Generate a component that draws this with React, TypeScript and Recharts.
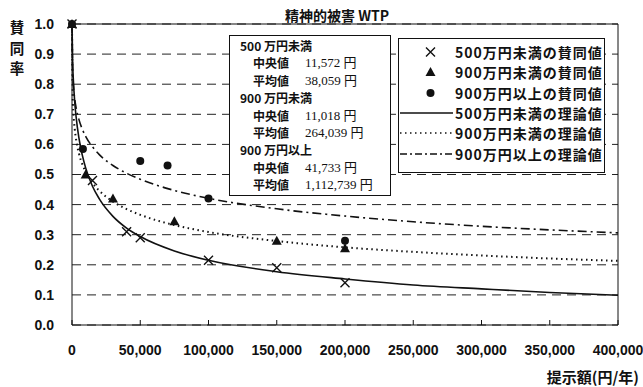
import React from 'react';
import { ComposedChart, Line, Scatter, XAxis, YAxis, CartesianGrid, ReferenceLine } from 'recharts';

// 理論値の曲線
const curveX = [0, 500, 1000, 2000, 3000, 5000, 7500, 10000, 15000, 20000, 30000, 40000, 50000, 75000, 100000, 150000, 200000, 250000, 300000, 350000, 400000];
const theoryUnder500 = [1.0, 0.868, 0.813, 0.741, 0.692, 0.623, 0.565, 0.522, 0.461, 0.419, 0.361, 0.322, 0.294, 0.246, 0.215, 0.177, 0.153, 0.133, 0.12, 0.108, 0.099];
const theoryUnder900 = [1.0, 0.755, 0.705, 0.651, 0.616, 0.571, 0.535, 0.509, 0.472, 0.446, 0.41, 0.385, 0.366, 0.332, 0.309, 0.279, 0.258, 0.243, 0.231, 0.221, 0.213];
const theoryOver900 = [1.0, 0.833, 0.795, 0.751, 0.722, 0.684, 0.651, 0.627, 0.592, 0.566, 0.53, 0.504, 0.484, 0.447, 0.421, 0.386, 0.362, 0.343, 0.328, 0.316, 0.306];

// 賛同値
const obsXUnder500 = [0, 15000, 40000, 50000, 100000, 150000, 200000];
const obsYUnder500 = [1.0, 0.48, 0.31, 0.29, 0.215, 0.19, 0.14];
const obsXUnder900 = [0, 10000, 30000, 75000, 150000, 200000];
const obsYUnder900 = [1.0, 0.5, 0.42, 0.345, 0.28, 0.255];
const obsXOver900 = [0, 8000, 50000, 70000, 100000, 200000];
const obsYOver900 = [1.0, 0.585, 0.545, 0.53, 0.42, 0.28];

const xTicks = [0, 50000, 100000, 150000, 200000, 250000, 300000, 350000, 400000];
const yTicks = [0, 0.1, 0.2, 0.3, 0.4, 0.5, 0.6, 0.7, 0.8, 0.9, 1.0];

const legendLabels = [
  '500万円未満の賛同値',
  '900万円未満の賛同値',
  '900万円以上の賛同値',
  '500万円未満の理論値',
  '900万円未満の理論値',
  '900万円以上の理論値',
];

const statTitles = ['500 万円未満', '900 万円未満', '900 万円以上'];
const statMedians = ['11,572 円', '11,018 円', '41,733 円'];
const statMeans = ['38,059 円', '264,039 円', '1,112,739 円'];

const yLabelChars = ['賛', '同', '率'];

const toPoints = (xs: number[], ys: number[]) => xs.map((x, i) => ({ x, y: ys[i] }));

const INK = '#111';
const SANS = '"Liberation Sans", Arial, sans-serif';
const CJK = '"Noto Sans CJK JP", sans-serif';

const CrossShape = (props: any) => {
  const { cx, cy } = props;
  const r = 4.5;
  return (
    <path
      d={`M${cx - r},${cy - r}L${cx + r},${cy + r}M${cx - r},${cy + r}L${cx + r},${cy - r}`}
      stroke={INK}
      strokeWidth={1.4}
      fill="none"
    />
  );
};

const TriangleShape = (props: any) => {
  const { cx, cy } = props;
  return <path d={`M${cx},${cy - 5}L${cx + 5},${cy + 4}L${cx - 5},${cy + 4}Z`} fill={INK} />;
};

const DotShape = (props: any) => {
  const { cx, cy } = props;
  return <circle cx={cx} cy={cy} r={4} fill={INK} />;
};

const legendSymbol = (i: number) => {
  if (i === 0) return <path d="M27,5.5L36,14.5M27,14.5L36,5.5" stroke={INK} strokeWidth={1.4} />;
  if (i === 1) return <path d="M31.5,5L36.5,14L26.5,14Z" fill={INK} />;
  if (i === 2) return <circle cx={31.5} cy={10} r={4} fill={INK} />;
  const dash = i === 3 ? undefined : i === 4 ? '1.5 3.5' : '7 3 2 3';
  return <line x1={1} y1={10} x2={54} y2={10} stroke={INK} strokeWidth={1.6} strokeDasharray={dash} />;
};

const App: React.FC = () => {
  const line500 = toPoints(curveX, theoryUnder500);
  const line900 = toPoints(curveX, theoryUnder900);
  const lineOver = toPoints(curveX, theoryOver900);

  return (
    <div style={{ position: 'absolute', left: 0, top: 0, width: 643, height: 387, background: '#fff' }}>
      <ComposedChart width={643} height={387} margin={{ top: 24, right: 25, bottom: 0, left: 0 }}>
        <CartesianGrid horizontal vertical={false} stroke="#222" strokeDasharray="9 6" />
        <XAxis
          type="number"
          dataKey="x"
          domain={[0, 400000]}
          ticks={xTicks}
          height={62}
          tickSize={-5}
          tickMargin={25}
          stroke={INK}
          tick={{ fill: INK, fontSize: 14, fontWeight: 700, fontFamily: SANS }}
          tickFormatter={(v: number) => v.toLocaleString('en-US')}
        />
        <YAxis
          type="number"
          domain={[0, 1]}
          ticks={yTicks}
          width={72}
          tickLine={false}
          tickSize={0}
          tickMargin={18}
          stroke={INK}
          tick={{ fill: INK, fontSize: 14, fontWeight: 700, fontFamily: SANS }}
          tickFormatter={(v: number) => v.toFixed(1)}
        />
        <YAxis
          yAxisId="right"
          orientation="right"
          mirror
          type="number"
          domain={[0, 1]}
          ticks={yTicks}
          tick={false}
          tickSize={5}
          stroke={INK}
        />
        <ReferenceLine y={1} stroke={INK} strokeWidth={1.2} />

        <Line data={line500} dataKey="y" type="monotone" stroke={INK} strokeWidth={1.6} dot={false} isAnimationActive={false} />
        <Line data={line900} dataKey="y" type="monotone" stroke={INK} strokeWidth={2} strokeDasharray="1.5 3.5" dot={false} isAnimationActive={false} />
        <Line data={lineOver} dataKey="y" type="monotone" stroke={INK} strokeWidth={1.6} strokeDasharray="9 4 2 4" dot={false} isAnimationActive={false} />

        <Scatter data={toPoints(obsXUnder500, obsYUnder500)} dataKey="y" shape={CrossShape} isAnimationActive={false} />
        <Scatter data={toPoints(obsXUnder900, obsYUnder900)} dataKey="y" shape={TriangleShape} isAnimationActive={false} />
        <Scatter data={toPoints(obsXOver900, obsYOver900)} dataKey="y" shape={DotShape} isAnimationActive={false} />
      </ComposedChart>

      {/* タイトル */}
      <div style={{ position: 'absolute', left: 270, top: 5, width: 134, textAlign: 'center', fontFamily: CJK, fontSize: 14, fontWeight: 700, color: INK, lineHeight: '20px' }}>
        精神的被害 WTP
      </div>

      {/* 縦軸ラベル */}
      {yLabelChars.map((c, i) => (
        <div
          key={c}
          style={{ position: 'absolute', left: 8, top: 17 + i * 20.5, width: 18, height: 20, fontFamily: CJK, fontSize: 14.5, fontWeight: 700, color: INK, lineHeight: '20px', textAlign: 'center' }}
        >
          {c}
        </div>
      ))}

      {/* 横軸ラベル */}
      <div style={{ position: 'absolute', right: 4, top: 366, fontFamily: CJK, fontSize: 15, fontWeight: 700, color: INK, lineHeight: '22px' }}>
        提示額(円/年)
      </div>

      {/* 中央値・平均値 */}
      <div style={{ position: 'absolute', left: 229, top: 35, width: 160, height: 158, border: '1.5px solid #111', background: '#fff', fontSize: 12, color: INK, paddingTop: 1 }}>
        {statTitles.map((t, i) => (
          <div key={t}>
            <div style={{ height: 17.4, lineHeight: '17.4px', paddingLeft: 10, fontFamily: CJK, fontWeight: 700 }}>{t}</div>
            <div style={{ height: 17.4, lineHeight: '17.4px', paddingLeft: 23, display: 'flex' }}>
              <span style={{ width: 52, fontFamily: CJK, fontWeight: 700 }}>中央値</span>
              <span style={{ fontFamily: `"Liberation Serif", ${CJK}`, fontSize: 13 }}>{statMedians[i]}</span>
            </div>
            <div style={{ height: 17.4, lineHeight: '17.4px', paddingLeft: 23, display: 'flex' }}>
              <span style={{ width: 52, fontFamily: CJK, fontWeight: 700 }}>平均値</span>
              <span style={{ fontFamily: `"Liberation Serif", ${CJK}`, fontSize: 13 }}>{statMeans[i]}</span>
            </div>
          </div>
        ))}
      </div>

      {/* 凡例 */}
      <div style={{ position: 'absolute', left: 398, top: 38, width: 205, height: 130, border: '1.5px solid #111', background: '#fff', paddingTop: 3 }}>
        {legendLabels.map((label, i) => (
          <div key={label} style={{ display: 'flex', alignItems: 'center', height: 20.3 }}>
            <svg width={56} height={20} style={{ flex: 'none' }}>{legendSymbol(i)}</svg>
            <span style={{ fontFamily: CJK, fontSize: 14, fontWeight: 700, letterSpacing: 1, color: INK, whiteSpace: 'nowrap' }}>{label}</span>
          </div>
        ))}
      </div>
    </div>
  );
};

export default App;
